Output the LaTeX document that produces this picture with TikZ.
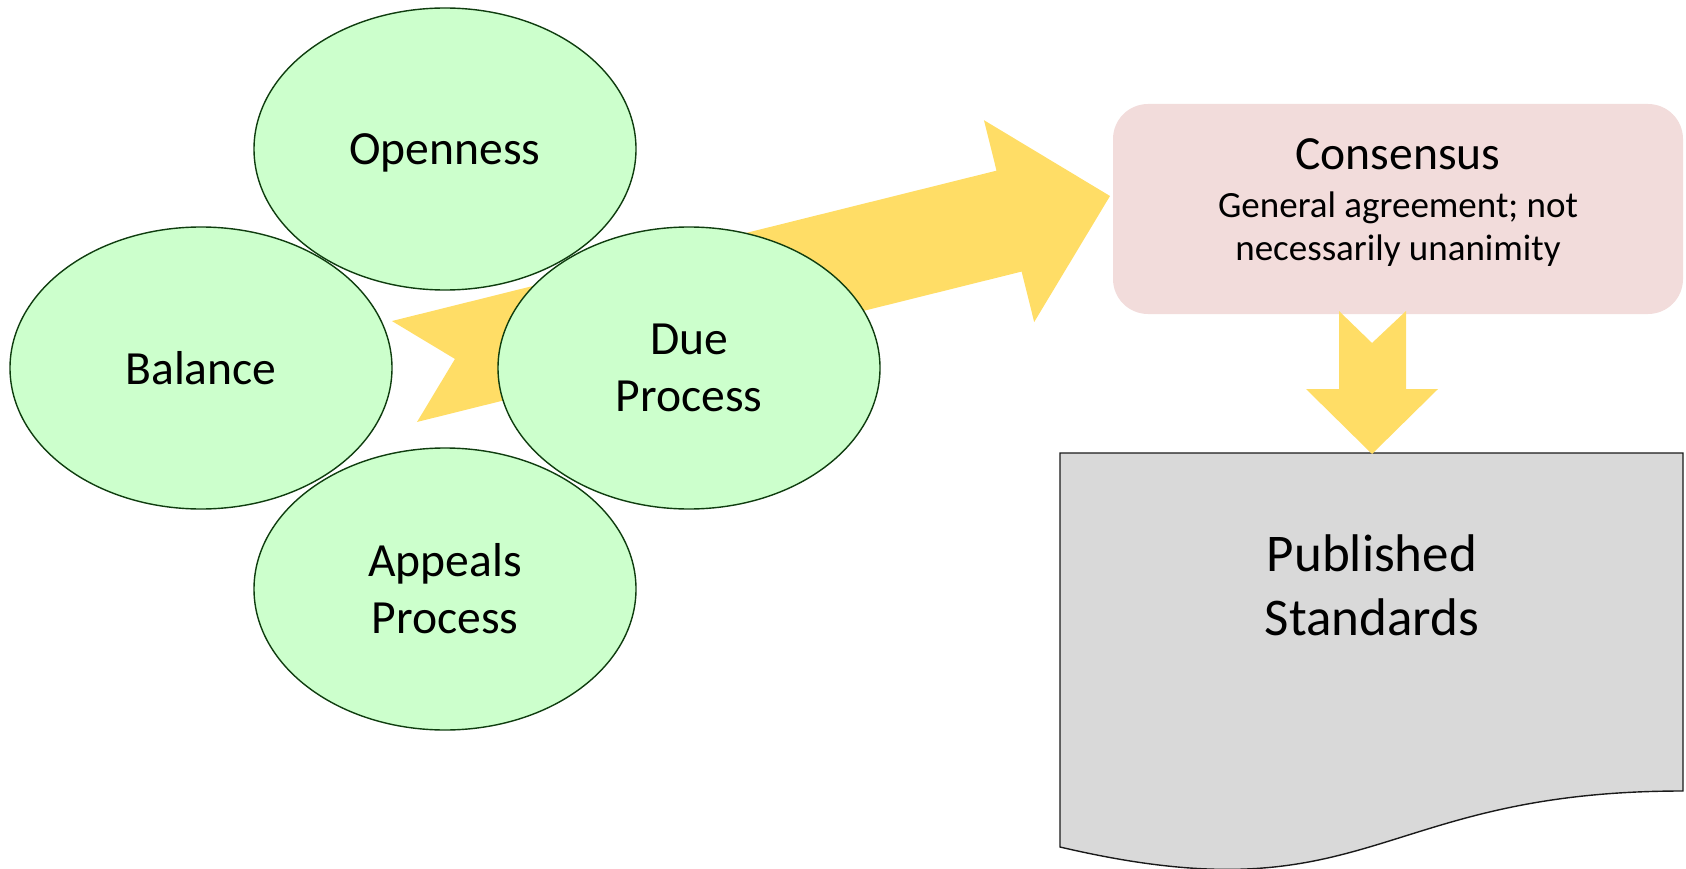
\documentclass[tikz,border=0pt]{standalone}
\usepackage{fontspec}
\setmainfont{Carlito}
\usetikzlibrary{shapes.geometric}
\definecolor{ellfill}{HTML}{CCFFCC}
\definecolor{elldraw}{HTML}{0F3D0F}
\definecolor{arrowyellow}{HTML}{FFDD66}
\definecolor{pinkbox}{HTML}{F2DCDB}
\definecolor{docgray}{HTML}{D9D9D9}
\definecolor{docdraw}{HTML}{1A1A1A}
\tikzset{
  bubble/.style={ellipse, fill=ellfill, draw=elldraw, line width=1.4pt,
    minimum width=382pt, minimum height=282pt, inner sep=0pt, align=center,
    font=\fontsize{47.6}{57}\selectfont},
  blockarrow/.style={fill=arrowyellow, draw=none},
  consbox/.style={rectangle, rounded corners=35pt, fill=pinkbox, draw=none,
    minimum width=570pt, minimum height=210pt, inner sep=0pt},
  constext/.style={align=center, inner sep=0pt, font=\fontsize{37}{43}\selectfont},
  docshape/.style={fill=docgray, draw=docdraw, line width=1.4pt, line join=miter},
  doctext/.style={align=center, inner sep=0pt, font=\fontsize{53}{64}\selectfont}
}
\begin{document}
\begin{tikzpicture}[x=1pt, y=-1pt]
\useasboundingbox (0,0) rectangle (1686,869);

% big notched arrow (behind the bubbles)
\begin{scope}[shift={(404.5,371.5)}, rotate=13.97]
  \fill[blockarrow] (0,-52) coordinate (bigtailtop) -- (623,-52) -- (623,-104)
    -- (727,0) coordinate (bigtip) -- (623,104) -- (623,52) -- (0,52) coordinate (bigtailbot)
    -- (52,0) coordinate (bignotch) -- cycle;
\end{scope}

% bubbles
\node[bubble, text depth=0pt] (open) at (445,149) {Openness};
\node[bubble] (bal) at (201,368) {Balance};
\node[bubble] (appeals) at (445,589) {Appeals\\Process};
\node[bubble] (due) at (689,368) {Due\\Process};

% consensus box
\node[consbox] (cons) at (1398,209) {};
\node[constext] (constxt) at (1398,203) {{\fontsize{47.6}{57}\selectfont Consensus}\\[5pt]General agreement; not\\necessarily unanimity};

% published standards document
\draw[docshape] (1060,453) coordinate (docTL) -- (1683,453) coordinate (docTR)
  -- (1683,791) .. controls (1371.5,791) and (1371.5,920) .. (1060,847) -- cycle;
\node[doctext] (pub) at (1372,585) {Published\\Standards};

% down notched arrow
\fill[blockarrow] (1339,311) coordinate (dntailL) -- (1372,343) coordinate (dnnotch)
  -- (1406,311) coordinate (dntailR) -- (1406,389) -- (1438,389)
  -- (1372,454) coordinate (dntip) -- (1306,389) -- (1339,389) -- cycle;
\end{tikzpicture}
\end{document}
